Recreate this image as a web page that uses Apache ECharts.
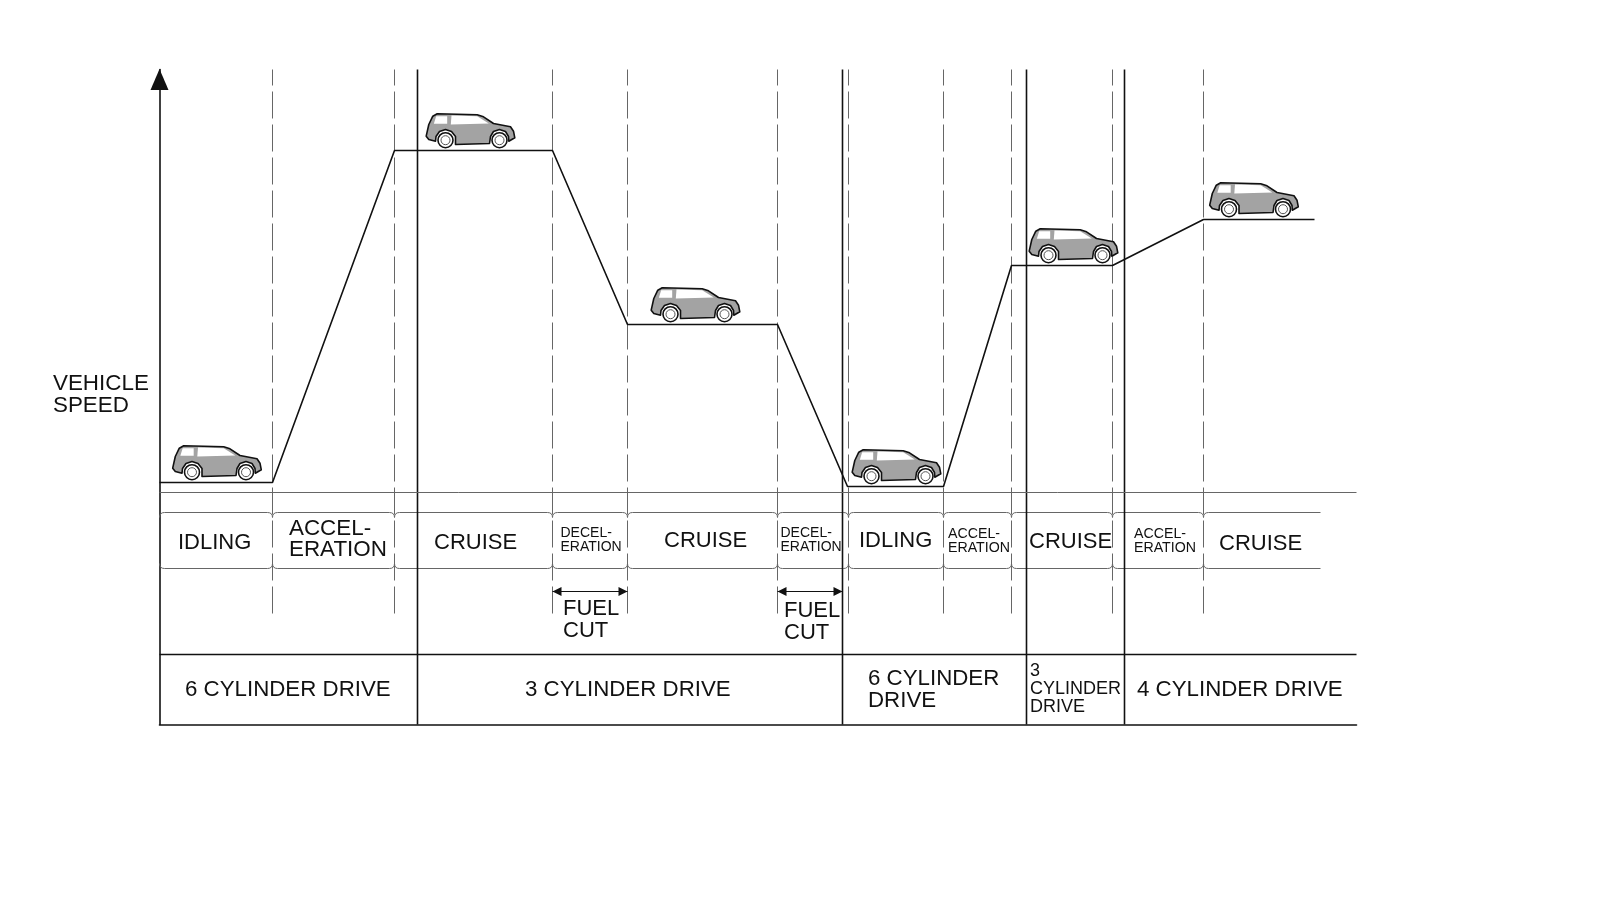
<!DOCTYPE html>
<html>
<head>
<meta charset="utf-8">
<title>Vehicle speed and cylinder drive</title>
<style>
html, body { margin: 0; padding: 0; background: #fff; }
#box { width: 1600px; height: 919px; }
</style>
<script src="https://cdn.jsdelivr.net/npm/echarts@6/dist/echarts.min.js"></script>
</head>
<body>
<div id="box"></div>
<script>
// speed profile, time runs along x, speed is 0 on the thin base line
var speedTimes = [0, 113, 235, 393, 468, 618, 688, 784, 852, 953, 1044, 1155];
var speedValues = [10, 10, 342, 342, 168, 168, 6, 6, 227, 227, 273, 273];

// driving phases
var phaseNames = ['IDLING', 'ACCEL-\nERATION', 'CRUISE', 'DECEL-\nERATION', 'CRUISE', 'DECEL-\nERATION',
    'IDLING', 'ACCEL-\nERATION', 'CRUISE', 'ACCEL-\nERATION', 'CRUISE'];
var phaseEnds = [113, 235, 393, 468, 618, 689, 784, 852, 953, 1044, 1161];

// cylinder modes
var driveNames = ['6 CYLINDER DRIVE', '3 CYLINDER DRIVE', '6 CYLINDER\nDRIVE', '3\nCYLINDER\nDRIVE', '4 CYLINDER DRIVE'];
var driveEnds = [258, 683, 867, 965, 1197];

// fuel cut spans and where the cars sit
var fuelCutStarts = [393, 618];
var fuelCutEnds = [468, 683];
var carTimes = [57.5, 311, 536, 737, 914, 1094.5];
var carSpeeds = [10, 342, 168, 6, 227, 273];

// pixel spots for the text [left, middle y, font size]
var phaseTextPos = [
    [178, 543, 22], [289, 539, 22.4], [434, 542.5, 22], [560.5, 540, 14], [664, 540.5, 22], [780.5, 540.5, 14],
    [859, 540.5, 22], [948, 541, 14.2], [1029, 541.5, 22], [1134, 541, 14.2], [1219, 543.5, 22]
];
var driveTextPos = [[185, 690, 22.3], [525, 690, 22.3], [868, 690, 22.3], [1030, 689, 18], [1137, 690, 22.3]];
var fuelTextPos = [[563, 619.5], [784, 621.5]];

var bandTop = -20, bandBottom = -76, dashEnd = -121, arrowY = -99, tableTop = -162;
var yMin = -232, yMax = 423, xMax = 1197;

function textEl(text, x, y, size, lineHeight) {
    return {
        type: 'text',
        silent: true,
        style: {
            text: text,
            x: x,
            y: y,
            fill: '#111',
            font: size + 'px "Liberation Sans", Arial, sans-serif',
            lineHeight: lineHeight,
            verticalAlign: 'middle'
        }
    };
}

var texts = [textEl('VEHICLE\nSPEED', 53, 395, 22.4, 22)];
phaseNames.forEach(function(name, i) {
    var p = phaseTextPos[i];
    texts.push(textEl(name, p[0], p[1], p[2], p[2] > 20 ? 21 : 14));
});
driveNames.forEach(function(name, i) {
    var p = driveTextPos[i];
    texts.push(textEl(name, p[0], p[1], p[2], p[2] > 20 ? 22 : 18));
});
fuelTextPos.forEach(function(p) {
    texts.push(textEl('FUEL\nCUT', p[0], p[1], 22, 22));
});

// vertical dashed lines at every phase change, last phase has none
function renderDashed(params, api) {
    var t = api.value(0);
    var a = api.coord([t, yMax]);
    var b = api.coord([t, dashEnd]);
    return {
        type: 'line',
        shape: { x1: a[0], y1: a[1], x2: b[0], y2: b[1] },
        style: { stroke: '#666', lineWidth: 1, lineDash: [27, 6], lineDashOffset: 11 }
    };
}

// vertical solid lines between cylinder modes
function renderSolid(params, api) {
    var t = api.value(0);
    var a = api.coord([t, yMax]);
    var b = api.coord([t, yMin]);
    return {
        type: 'line',
        shape: { x1: a[0], y1: a[1], x2: b[0], y2: b[1] },
        style: { stroke: '#111', lineWidth: 1.6 }
    };
}

// top and bottom edge of a phase cell, rounded towards the dashed lines
function renderCell(params, api) {
    var x0 = api.coord([api.value(0), 0])[0];
    var x1 = api.coord([api.value(1), 0])[0];
    var t = api.coord([0, bandTop])[1];
    var b = api.coord([0, bandBottom])[1];
    var r = 5;
    var last = params.dataIndex === phaseEnds.length - 1;
    var top = 'M' + x0 + ' ' + (t + r) + 'Q' + x0 + ' ' + t + ' ' + (x0 + r) + ' ' + t;
    var bottom = 'M' + x0 + ' ' + (b - r) + 'Q' + x0 + ' ' + b + ' ' + (x0 + r) + ' ' + b;
    if (last) {
        top += 'L' + x1 + ' ' + t;
        bottom += 'L' + x1 + ' ' + b;
    } else {
        top += 'L' + (x1 - r) + ' ' + t + 'Q' + x1 + ' ' + t + ' ' + x1 + ' ' + (t + r);
        bottom += 'L' + (x1 - r) + ' ' + b + 'Q' + x1 + ' ' + b + ' ' + x1 + ' ' + (b - r);
    }
    return {
        type: 'path',
        shape: { pathData: top + bottom, layout: 'cover', x: x0, y: t, width: x1 - x0, height: b - t },
        style: { fill: null, stroke: '#666', lineWidth: 1 }
    };
}

// double headed fuel cut arrow
function renderArrow(params, api) {
    var a = api.coord([api.value(0), arrowY]);
    var b = api.coord([api.value(1), arrowY]);
    var h = 9, w = 4.5;
    return {
        type: 'group',
        children: [{
            type: 'line',
            shape: { x1: a[0], y1: a[1], x2: b[0], y2: b[1] },
            style: { stroke: '#111', lineWidth: 1 }
        }, {
            type: 'polygon',
            shape: { points: [[a[0], a[1]], [a[0] + h, a[1] - w], [a[0] + h, a[1] + w]] },
            style: { fill: '#111' }
        }, {
            type: 'polygon',
            shape: { points: [[b[0], b[1]], [b[0] - h, b[1] - w], [b[0] - h, b[1] + w]] },
            style: { fill: '#111' }
        }]
    };
}

// little SUV, origin is the middle of the car on the speed line
function renderCar(params, api) {
    var c = api.coord([api.value(0), api.value(1)]);
    function wheel(x) {
        return [{
            type: 'circle',
            shape: { cx: x, cy: -10.3, r: 7.5 },
            style: { fill: '#fff', stroke: '#111', lineWidth: 1.6 }
        }, {
            type: 'circle',
            shape: { cx: x, cy: -10.3, r: 4.5 },
            style: { fill: '#fff', stroke: '#555', lineWidth: 1 }
        }];
    }
    return {
        type: 'group',
        x: c[0],
        y: c[1],
        children: [{
            type: 'polygon',
            shape: {
                smooth: 0,
                points: [[-44.3, -14.3], [-41.7, -26], [-37.7, -34.3], [-33.3, -36.7], [6.7, -35.7], [13, -33.7],
                    [23, -27], [40, -23.7], [43, -19.3], [44.3, -12.7], [38.3, -9.3], [38, -14], [35, -19], [29, -21],
                    [23, -19], [20, -14], [19, -7], [-15, -6], [-15, -14], [-19, -19], [-25, -21], [-31, -19],
                    [-34.5, -14], [-35, -9.3], [-41.7, -11]]
            },
            style: { fill: '#a3a3a3', stroke: '#111', lineWidth: 1.6, lineJoin: 'round' }
        }, {
            type: 'polygon',
            shape: { points: [[-34.3, -34.3], [-23.3, -34.3], [-23.3, -26.7], [-36.7, -26.7]] },
            style: { fill: '#fff' }
        }, {
            type: 'polygon',
            shape: { points: [[-19, -35], [6.7, -34.3], [18.3, -27], [-19.7, -26]] },
            style: { fill: '#fff' }
        }].concat(wheel(-25), wheel(29))
    };
}

var dom = document.getElementById('box');
var myChart = echarts.init(dom);

var option = {
    animation: false,
    backgroundColor: '#fff',
    grid: { left: 159.5, top: 69.5, width: 1197, height: 655 },
    xAxis: {
        type: 'value',
        min: 0,
        max: xMax,
        axisLine: { onZero: false, lineStyle: { color: '#111', width: 1.6 } },
        axisTick: { show: false },
        axisLabel: { show: false },
        splitLine: { show: false }
    },
    yAxis: {
        type: 'value',
        min: yMin,
        max: yMax,
        axisLine: {
            onZero: false,
            symbol: ['none', 'triangle'],
            symbolSize: [18, 21],
            symbolOffset: [0, -10],
            lineStyle: { color: '#111', width: 1.6 }
        },
        axisTick: { show: false },
        axisLabel: { show: false },
        splitLine: { show: false }
    },
    graphic: texts,
    series: [{
        // thin base line and top of the drive table
        type: 'line',
        data: [[0, 0], [xMax, 0]],
        symbol: 'none',
        silent: true,
        lineStyle: { color: '#666', width: 1 }
    }, {
        type: 'line',
        data: [[0, tableTop], [xMax, tableTop]],
        symbol: 'none',
        silent: true,
        lineStyle: { color: '#111', width: 1.6 }
    }, {
        type: 'custom',
        renderItem: renderDashed,
        data: phaseEnds.slice(0, -1),
        silent: true
    }, {
        type: 'custom',
        renderItem: renderCell,
        data: phaseEnds.map(function(end, i) { return [i === 0 ? 0 : phaseEnds[i - 1], end]; }),
        silent: true
    }, {
        type: 'custom',
        renderItem: renderSolid,
        data: driveEnds.slice(0, -1),
        silent: true
    }, {
        type: 'custom',
        renderItem: renderArrow,
        data: fuelCutStarts.map(function(s, i) { return [s, fuelCutEnds[i]]; }),
        silent: true
    }, {
        // the speed profile
        type: 'line',
        data: speedTimes.map(function(t, i) { return [t, speedValues[i]]; }),
        symbol: 'none',
        silent: true,
        z: 5,
        lineStyle: { color: '#111', width: 1.6 }
    }, {
        type: 'custom',
        renderItem: renderCar,
        data: carTimes.map(function(t, i) { return [t, carSpeeds[i]]; }),
        silent: true,
        z: 6
    }]
};

myChart.setOption(option);
</script>
</body>
</html>
